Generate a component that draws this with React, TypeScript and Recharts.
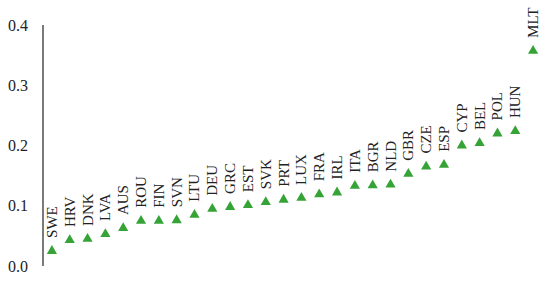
import { ScatterChart, Scatter, XAxis, YAxis, ZAxis, Symbols } from 'recharts'

const countries = [
  'SWE', 'HRV', 'DNK', 'LVA', 'AUS', 'ROU', 'FIN', 'SVN', 'LTU', 'DEU',
  'GRC', 'EST', 'SVK', 'PRT', 'LUX', 'FRA', 'IRL', 'ITA', 'BGR', 'NLD',
  'GBR', 'CZE', 'ESP', 'CYP', 'BEL', 'POL', 'HUN', 'MLT',
]
const values = [
  0.025, 0.043, 0.045, 0.053, 0.063, 0.075, 0.075, 0.076, 0.085, 0.095,
  0.098, 0.101, 0.106, 0.11, 0.113, 0.119, 0.122, 0.133, 0.134, 0.135,
  0.153, 0.165, 0.168, 0.2, 0.204, 0.22, 0.224, 0.357,
]
const yTicks = [0, 0.1, 0.2, 0.3, 0.4]

const data = countries.map((name, i) => ({ name, value: values[i] }))

const font = '"Liberation Serif", serif'
const green = '#36a336'

// triangle marker plus the vertical country code above it
const Point = (props: any) => {
  const { cx, cy, payload } = props
  const tx = cx + 5
  const ty = cy - 13
  return (
    <g>
      <Symbols type="triangle" size={45} cx={cx} cy={cy} fill={green} />
      <text
        x={tx}
        y={ty}
        transform={`rotate(-90, ${tx}, ${ty})`}
        textAnchor="start"
        fontFamily={font}
        fontSize={15}
        fill="#222"
      >
        {payload.name}
      </text>
    </g>
  )
}

export default function App() {
  return (
    <div style={{ position: 'absolute', left: 0, top: 0, background: '#fff', fontFamily: font }}>
      <ScatterChart width={550} height={281} margin={{ top: 25, right: 8, left: 0, bottom: 15 }}>
        <XAxis dataKey="name" type="category" allowDuplicatedCategory={false} hide />
        <YAxis
          dataKey="value"
          type="number"
          domain={[0, 0.4]}
          ticks={yTicks}
          tickFormatter={(v: number) => v.toFixed(1)}
          width={43}
          tickSize={0}
          tickMargin={15}
          axisLine={{ stroke: '#333', strokeWidth: 1.3 }}
          tickLine={false}
          tick={{ fontSize: 16, fill: '#222', fontFamily: font }}
        />
        <ZAxis range={[45, 45]} />
        <Scatter data={data} fill={green} shape={<Point />} isAnimationActive={false} />
      </ScatterChart>
    </div>
  )
}
